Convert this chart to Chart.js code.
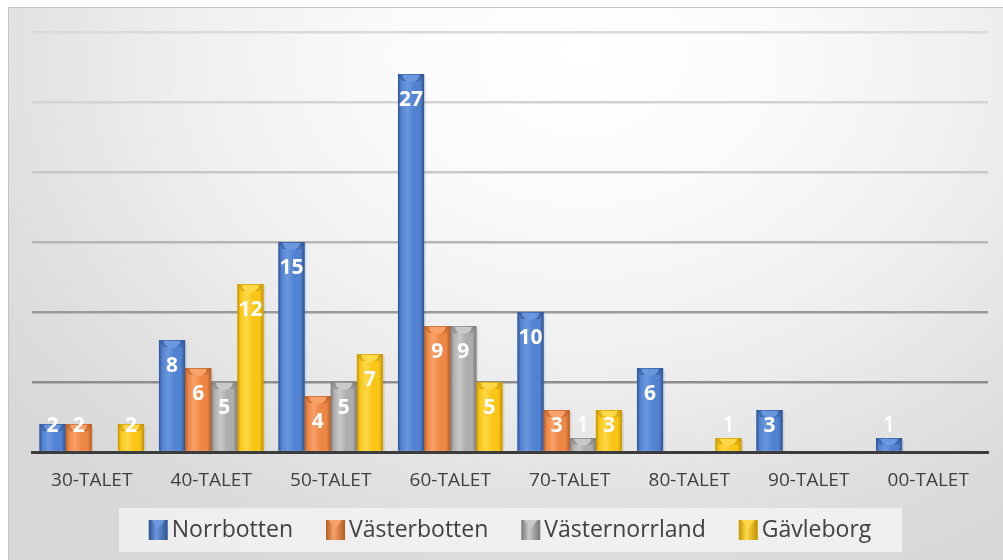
<!DOCTYPE html>
<html><head><meta charset="utf-8">
<script src="https://cdn.jsdelivr.net/npm/chart.js@4/dist/chart.umd.min.js"></script>
<style>
html,body{margin:0;padding:0;width:1003px;height:560px;overflow:hidden;background:#fff}
#frame{position:absolute;left:8px;top:7px;width:1010px;height:570px;border:1.5px solid #c4c4c4;box-sizing:border-box;
background:radial-gradient(ellipse 72% 100% at 57% 8%, #ffffff 0%, #fbfbfb 25%, #efefef 55%, #dedede 85%, #d8d8d8 100%);}
#wrap{position:absolute;left:0;top:0;width:1003px;height:560px}
</style></head><body>
<div id="frame"></div>
<div id="wrap"><canvas id="c" width="1003" height="560"></canvas></div>
<script>
const categories = ['30-TALET','40-TALET','50-TALET','60-TALET','70-TALET','80-TALET','90-TALET','00-TALET'];
const seriesNames = ['Norrbotten','Västerbotten','Västernorrland','Gävleborg'];
const norrbotten     = [2, 8, 15, 27, 10, 6, 3, 1];
const vasterbotten   = [2, 6, 4, 9, 3, null, null, null];
const vasternorrland = [null, 5, 5, 9, 1, null, null, null];
const gavleborg      = [2, 12, 7, 5, 3, 1, null, null];
const yTicks = [0, 5, 10, 15, 20, 25, 30];

const palette = [
  {base:'#5283d2', light:'#6a97de', dark:'#30528f'},
  {base:'#ee8745', light:'#f8a16a', dark:'#b65c22'},
  {base:'#adadad', light:'#c9c9c9', dark:'#777777'},
  {base:'#f9c617', light:'#ffd84a', dark:'#c29200'}
];
const FONT = "'Open Sans', 'DejaVu Sans', sans-serif";

const gridColors = {0:'#404040',5:'#8e8e8e',10:'#9a9a9a',15:'#b6b6b6',20:'#c8c8c8',25:'#d3d3d3',30:'#dadada'};

const shadePlugin = {
  id:'shade',
  afterDatasetsDraw(chart){
    const ctx = chart.ctx;
    chart.data.datasets.forEach((ds, di) => {
      const meta = chart.getDatasetMeta(di);
      const p = palette[di];
      meta.data.forEach((el, i) => {
        const v = ds.data[i];
        if (v === null || v === undefined) return;
        const {x, y, base, width} = el.getProps(['x','y','base','width'], true);
        const l = x - width/2, r = x + width/2, h = base - y;
        ctx.save();
        ctx.fillStyle = 'rgba(0,0,0,0.08)';
        ctx.fillRect(r, y+2, 2, h-2);
        const g = ctx.createLinearGradient(l, 0, r, 0);
        g.addColorStop(0, p.dark);
        g.addColorStop(0.12, p.base);
        g.addColorStop(0.35, p.light);
        g.addColorStop(0.6, p.base);
        g.addColorStop(0.84, p.base);
        g.addColorStop(1, p.dark);
        ctx.fillStyle = g;
        ctx.fillRect(l, y, width, h);
        const bh = Math.min(7, h/2);
        ctx.beginPath();
        ctx.moveTo(l, y);
        ctx.lineTo(r, y);
        ctx.lineTo(r - 4, y + bh);
        ctx.lineTo(l + 4, y + bh);
        ctx.closePath();
        ctx.fillStyle = p.dark;
        ctx.globalAlpha = 0.5;
        ctx.fill();
        ctx.globalAlpha = 1;
        ctx.beginPath();
        ctx.ellipse(x, y + 1, width*0.32, bh, 0, 0, Math.PI);
        ctx.fillStyle = p.light;
        ctx.fill();
        ctx.restore();
      });
    });
    ctx.save();
    ctx.textAlign = 'center';
    ctx.textBaseline = 'middle';
    chart.data.datasets.forEach((ds, di) => {
      const meta = chart.getDatasetMeta(di);
      meta.data.forEach((el, i) => {
        const v = ds.data[i];
        if (v === null || v === undefined) return;
        const {x, y, base} = el.getProps(['x','y','base'], true);
        const ly = Math.min(y + 26, base - 25);
        ctx.font = (v === 1 ? '600 ' : 'bold ') + '21px ' + FONT;
        ctx.fillStyle = '#ffffff';
        ctx.fillText(String(v), x, ly);
      });
    });
    ctx.restore();
  }
};

const legendPlugin = {
  id:'customLegend',
  afterDraw(chart){
    const ctx = chart.ctx;
    const cx = (chart.chartArea.left + chart.chartArea.right)/2;
    const cy = 529;
    ctx.save();
    ctx.fillStyle = 'rgba(245,245,245,0.75)';
    ctx.fillRect(cx - 391, 508, 783, 44);
    ctx.font = '23px ' + FONT;
    ctx.textBaseline = 'middle';
    const box = 19, gapText = 4, gapItem = 33;
    const widths = chart.data.datasets.map(d => box + gapText + ctx.measureText(d.label).width);
    const total = widths.reduce((a,b)=>a+b,0) + gapItem*(widths.length-1);
    let x = cx - total/2;
    chart.data.datasets.forEach((d, di) => {
      const p = palette[di];
      const g = ctx.createLinearGradient(x, 0, x+box, 0);
      g.addColorStop(0, p.dark); g.addColorStop(0.4, p.light); g.addColorStop(1, p.dark);
      ctx.fillStyle = g;
      ctx.fillRect(x, cy - 9, box, 20);
      ctx.fillStyle = p.light;
      ctx.beginPath(); ctx.moveTo(x+3, cy-9); ctx.lineTo(x+box-3, cy-9); ctx.lineTo(x+box/2, cy); ctx.closePath(); ctx.fill();
      ctx.fillStyle = '#404040';
      ctx.fillText(d.label, x + box + gapText, cy + 1);
      x += widths[di] + gapItem;
    });
    ctx.restore();
  }
};

const seriesData = [norrbotten, vasterbotten, vasternorrland, gavleborg];

new Chart(document.getElementById('c'), {
  type:'bar',
  data:{
    labels: categories,
    datasets: seriesNames.map((n, i) => ({
      label: n,
      data: seriesData[i],
      backgroundColor: palette[i].base,
      borderWidth: 0,
      categoryPercentage: 0.875,
      barPercentage: 1.0
    }))
  },
  options:{
    responsive:false,
    animation:false,
    devicePixelRatio:1,
    layout:{padding:{left:32, right:15, top:32, bottom:68}},
    plugins:{legend:{display:false}, tooltip:{enabled:false}},
    scales:{
      x:{
        grid:{display:false, drawTicks:false},
        border:{display:true, color:'#3c3c3c', width:3},
        ticks:{color:'#404040', font:{family:FONT, size:19}, padding:17},
        afterFit(s){ s.height = 40; }
      },
      y:{
        min:0, max:30,
        afterBuildTicks(s){ s.ticks = yTicks.map(v => ({value:v})); },
        ticks:{display:false},
        border:{display:false},
        grid:{drawTicks:false, lineWidth:2.5, color:(c) => gridColors[c.tick ? c.tick.value : 0] || '#c0c0c0'},
        afterFit(s){ s.width = 0; }
      }
    }
  },
  plugins:[shadePlugin, legendPlugin]
});
</script>
</body></html>
